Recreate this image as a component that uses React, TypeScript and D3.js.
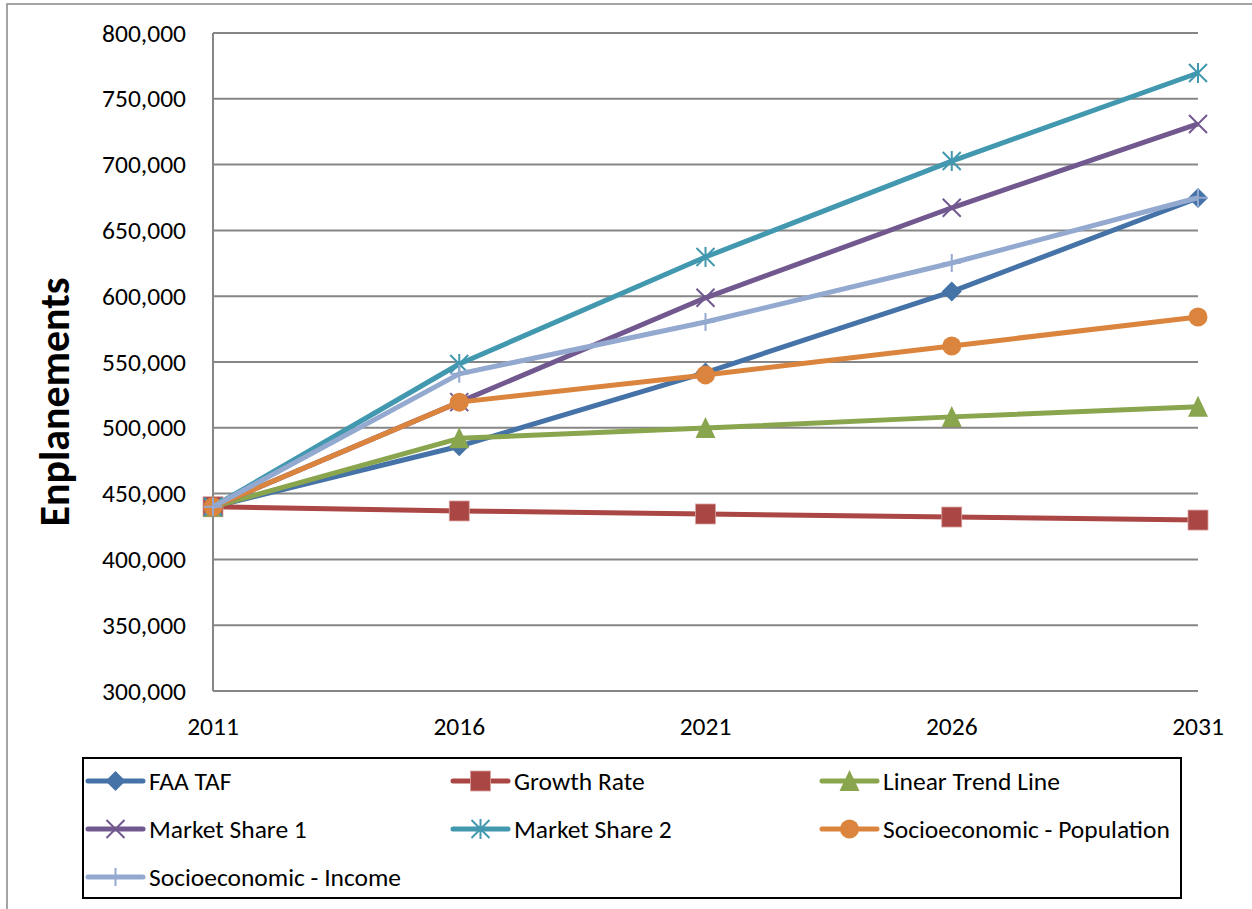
import React from "react";
import * as d3 from "d3";

const years = ["2011", "2016", "2021", "2026", "2031"];
const yTicks = [300000, 350000, 400000, 450000, 500000, 550000, 600000, 650000, 700000, 750000, 800000];

const faaTaf = [440000, 486000, 542000, 603500, 674600];
const growthRate = [440000, 436800, 434500, 432200, 429900];
const linearTrend = [440000, 492000, 499800, 508300, 516000];
const marketShare1 = [440000, 519500, 598800, 667200, 730900];
const marketShare2 = [440000, 548500, 629800, 702700, 769600];
const socioPopulation = [440000, 519500, 540200, 562200, 584200];
const socioIncome = [440000, 541000, 580400, 625200, 674800];

const seriesNames = [
  "FAA TAF",
  "Growth Rate",
  "Linear Trend Line",
  "Market Share 1",
  "Market Share 2",
  "Socioeconomic - Population",
  "Socioeconomic - Income",
];
const seriesValues = [faaTaf, growthRate, linearTrend, marketShare1, marketShare2, socioPopulation, socioIncome];
const seriesColors = ["#4572A7", "#AA4643", "#89A54E", "#71588F", "#4198AF", "#DB843D", "#93A9CF"];
const seriesMarkers = ["diamond", "square", "triangle", "x", "star", "circle", "plus"];

const FONT = "Carlito, Calibri, Lato, sans-serif";

function Marker({ type, x, y, color }: { type: string; x: number; y: number; color: string }) {
  const t = `translate(${x},${y})`;
  if (type === "diamond") {
    return <path transform={t} d="M0,-10L10,0L0,10L-10,0Z" fill={color} />;
  }
  if (type === "square") {
    return <rect x={x - 10} y={y - 10} width={20} height={20} fill={color} stroke="#d9a3a1" strokeWidth={0.8} />;
  }
  if (type === "triangle") {
    return <path transform={t} d="M0,-11L10,10L-10,10Z" fill={color} />;
  }
  if (type === "circle") {
    return <circle cx={x} cy={y} r={9.5} fill={color} />;
  }
  if (type === "x") {
    return <path transform={t} d="M-9,-9L9,9M-9,9L9,-9" stroke={color} strokeWidth={2} fill="none" />;
  }
  if (type === "star") {
    return <path transform={t} d="M-9,-9L9,9M-9,9L9,-9M0,-10L0,10" stroke={color} strokeWidth={2} fill="none" />;
  }
  if (type === "plus") {
    return <path transform={t} d="M0,-9L0,9M-9,0L9,0" stroke={color} strokeWidth={2} fill="none" />;
  }
  return null;
}

export default function App() {
  const width = 1252;
  const height = 909;
  const x = d3.scalePoint<string>().domain(years).range([213, 1198]);
  const y = d3.scaleLinear().domain([300000, 800000]).range([691, 33]);
  const line = d3
    .line<number>()
    .x((_, i) => x(years[i]) as number)
    .y((d) => y(d));
  const fmt = d3.format(",");

  const legendCols = [88, 453, 822];
  const legendRows = [781, 829, 877];

  return (
    <svg
      width={width}
      height={height}
      style={{ position: "absolute", left: 0, top: 0, background: "#fff" }}
      fontFamily={FONT}
    >
      <rect x={0} y={0} width={width} height={height} fill="#fff" />
      <rect x={7} y={4} width={1260} height={920} fill="none" stroke="#868686" strokeWidth={1.5} />
      {/* grid lines */}
      {yTicks.map((t) => (
        <line key={t} x1={213} x2={1198} y1={y(t)} y2={y(t)} stroke="#868686" strokeWidth={2} />
      ))}
      {/* axes */}
      <line x1={213} x2={213} y1={33} y2={691} stroke="#868686" strokeWidth={2} />
      <line x1={213} x2={1198} y1={691} y2={691} stroke="#868686" strokeWidth={2} />
      {/* y tick labels */}
      {yTicks.map((t) => (
        <text key={t} x={186} y={y(t)} textAnchor="end" dominantBaseline="central" fontSize={25.5} fill="#000">
          {fmt(t)}
        </text>
      ))}
      {/* x tick labels */}
      {years.map((yr) => (
        <text key={yr} x={x(yr)} y={726} textAnchor="middle" dominantBaseline="central" fontSize={25.5} fill="#000">
          {yr}
        </text>
      ))}
      {/* y title */}
      <text
        transform={`translate(54,402) rotate(-90)`}
        textAnchor="middle"
        dominantBaseline="central"
        fontSize={42}
        fontWeight="bold"
        fill="#000"
      >
        Enplanements
      </text>
      {/* series */}
      {seriesValues.map((vals, si) => (
        <g key={seriesNames[si]}>
          <path d={line(vals) || ""} fill="none" stroke={seriesColors[si]} strokeWidth={5} strokeLinejoin="round" />
          {vals.map((v, i) => (
            <Marker key={i} type={seriesMarkers[si]} x={x(years[i]) as number} y={y(v)} color={seriesColors[si]} />
          ))}
        </g>
      ))}
      {/* legend */}
      <rect x={83} y={758} width={1098} height={140} fill="#fff" stroke="#000" strokeWidth={2} />
      {seriesNames.map((name, i) => {
        const cx = legendCols[i % 3];
        const cy = legendRows[Math.floor(i / 3)];
        return (
          <g key={name}>
            <line x1={cx} x2={cx + 55} y1={cy} y2={cy} stroke={seriesColors[i]} strokeWidth={5} strokeLinecap="round" />
            <Marker type={seriesMarkers[i]} x={cx + 27.5} y={cy} color={seriesColors[i]} />
            <text x={cx + 61} y={cy} dominantBaseline="central" fontSize={25.5} fill="#000">
              {name}
            </text>
          </g>
        );
      })}
    </svg>
  );
}
